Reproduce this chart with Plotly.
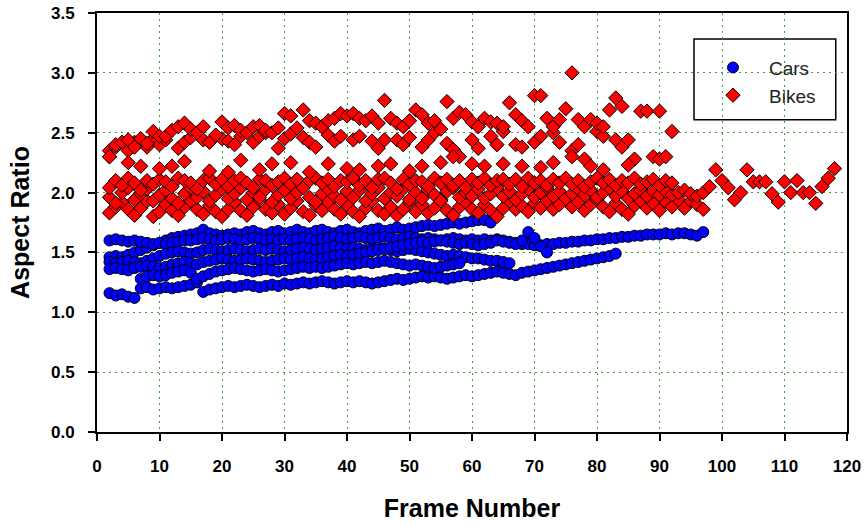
import plotly.graph_objects as go

# ---------------- data ----------------
# Each track: first frame number, then one aspect-ratio value per frame (None = no detection)
car_track_starts = [2, 2, 2, 2, 2, 7]

car_track_1 = [1.46, 1.47, 1.46, 1.48, 1.50, 1.52, 1.54, 1.56, 1.58,
               1.60, 1.62, 1.63, 1.64, 1.65, 1.66, 1.69, 1.66, 1.65, 1.64,
               1.65, 1.66, 1.65, 1.67, 1.68, 1.66, 1.65, 1.67, 1.68, 1.66,
               1.67, 1.69, 1.67, 1.66, 1.68, 1.69, 1.67, 1.66, 1.68, 1.69,
               1.67, 1.66, 1.68, 1.69, 1.70, 1.68, 1.69, 1.71, 1.69, 1.70,
               1.71, 1.72, 1.73, 1.72, 1.73, 1.74, 1.75, 1.74, 1.75, 1.76,
               1.77, 1.77, 1.75]

car_track_2 = [1.60, 1.61, 1.60, 1.59, 1.60, 1.59, 1.58, 1.57, 1.58,
               1.57, 1.58, 1.59, 1.60, 1.60, 1.61, 1.62, 1.61, 1.60, 1.61,
               1.62, 1.61, 1.60, 1.61, 1.62, 1.61, 1.60, 1.61, 1.60, 1.61,
               1.60, 1.61, 1.62, 1.61, 1.60, 1.61, 1.62, 1.63, 1.62, 1.61,
               1.62, 1.63, 1.62, 1.61, 1.62, 1.63, 1.62, 1.61, 1.62, 1.63,
               1.62, 1.61, 1.62, 1.61, 1.60, 1.61, 1.62, 1.61, 1.60, 1.61,
               1.60, 1.61, 1.60, 1.61, 1.60, 1.59, 1.58, 1.57, 1.57, 1.56,
               1.56, 1.57, 1.57, 1.58, 1.58, 1.59, 1.59, 1.60, 1.60, 1.61,
               1.61, 1.62, 1.62, 1.63, 1.63, 1.64, 1.64, 1.65, 1.65, 1.65,
               1.66, 1.65, 1.66, 1.66, 1.65, 1.64, 1.67]

car_track_3 = [1.42, 1.41, 1.42, 1.43, 1.42, 1.41, 1.43, 1.45, 1.47,
               1.49, 1.50, 1.51, 1.50, 1.49, 1.50, 1.52, 1.53, 1.52, 1.51,
               1.52, 1.53, 1.52, 1.51, 1.52, 1.53, 1.52, 1.53, 1.52, 1.51,
               1.52, 1.53, 1.54, 1.53, 1.52, 1.53, 1.54, 1.55, 1.54, 1.53,
               1.54, 1.53, 1.52, 1.53, 1.54, 1.53, 1.52, 1.51, 1.52, 1.53,
               1.52, 1.51, 1.50, 1.49, 1.48, 1.47, 1.48, 1.47, 1.46, 1.45,
               1.45, 1.44, 1.43, 1.43, 1.42, 1.41]

car_track_4 = [1.36, 1.37, 1.36, 1.35, 1.37, 1.38, 1.39, 1.38, 1.37,
               1.38, 1.40, 1.41, 1.42, 1.41, 1.40, 1.42, 1.43, 1.44, 1.45,
               1.44, 1.43, 1.44, 1.45, 1.44, 1.43, 1.42, 1.43, 1.44, 1.45,
               1.44, 1.45, 1.46, 1.45, 1.44, 1.45, 1.46, 1.47, 1.48, 1.47,
               1.48, 1.49, 1.50, 1.51, 1.52, 1.53, 1.54, 1.55, 1.56, 1.57,
               1.58, 1.59, 1.58, 1.59, 1.60, 1.59, 1.58, 1.57, 1.58, 1.57,
               1.56, 1.57, 1.58, 1.60, 1.59, 1.58, 1.57, 1.60, 1.67, 1.62,
               1.55, 1.50]

car_track_5 = [1.16, 1.14, 1.15, 1.13, 1.12, 1.20, 1.21, 1.19, 1.20,
               1.21, 1.20, 1.21, 1.22, 1.23, 1.25, 1.17, 1.19, 1.20, 1.21,
               1.22, 1.21, 1.22, 1.23, 1.22, 1.21, 1.22, 1.23, 1.22, 1.24,
               1.23, 1.24, 1.25, 1.24, 1.25, 1.26, 1.25, 1.24, 1.25, 1.26,
               1.25, 1.26, 1.25, 1.24, 1.25, 1.26, 1.27, 1.28, 1.27, 1.28,
               1.29, 1.30, 1.29, 1.30, 1.29, 1.28, 1.29, 1.30, 1.31, 1.30,
               1.31, 1.32, 1.33, 1.34, 1.33, 1.32, 1.31, 1.33, 1.34, 1.35,
               1.36, 1.37, 1.38, 1.39, 1.40, 1.41, 1.42, 1.43, 1.44, 1.45,
               1.46, 1.47, 1.49]

car_track_6 = [1.28, 1.30, 1.31, 1.30,
               1.31, 1.33, 1.34, 1.35, 1.33, 1.28, 1.30, 1.32, 1.34, 1.35,
               1.36, 1.37, 1.36, 1.35, 1.34, 1.35, 1.36, 1.35, 1.34, 1.35,
               1.36, 1.37, 1.38, 1.37, 1.38, 1.37, 1.38, 1.39, 1.40, 1.41,
               1.40, 1.41, 1.42, 1.41, 1.42, 1.43, 1.42, 1.41, 1.40, 1.39,
               1.40, 1.39, 1.38, 1.37, 1.38, 1.39, 1.40, 1.41]

bike_track_starts = [2, 2, 2, 2, 2, 2]

bike_track_1 = [1.83, 1.88, 1.92, 1.86, 1.81, 1.87, 1.93, 1.80, 1.84,
                1.90, 1.85, 1.81, 1.88, 1.93, 1.86, 1.82, 1.89, 1.84, 1.80,
                1.86, 1.92, 1.85, 1.81, 1.88, 1.94, 1.86, 1.83, 1.90, 1.82,
                1.87, 1.93, 1.84, 1.81, 1.89, 1.85, 1.92, 1.86, 1.82, 1.90,
                1.84, 1.80, 1.87, 1.93, 1.85, 1.82, 1.88, 1.81, 1.86, 1.92,
                1.84, 1.90, 1.83, 1.87, 1.94, 1.85, 1.81, 1.88, 1.92, 1.86,
                1.83, 1.90, 1.85, 1.80, 1.87, 1.93, 1.86, 1.89, 1.84, 1.91,
                1.87, 1.93, 1.86, 1.90, 1.95, 1.88, 1.92, 1.85, 1.90, 1.94,
                1.88, 1.84, 1.91, 1.86, 1.82, 1.89, 1.93, 1.87, 1.91, 1.85,
                1.92, 1.88, 1.94, 1.87, 1.93, 1.90, 1.86]

bike_track_2 = [1.96, 1.91, 2.00, 2.04, 1.94, 1.99, 2.03, 1.93, 1.98,
                2.02, 1.95, 1.91, 1.99, 2.04, 1.96, 2.01, 1.93, 1.98, 2.03,
                1.95, 1.99, 2.04, 1.94, 2.00, 1.96, 2.03, 1.92, 1.98, 2.02,
                1.95, 2.00, 2.05, 1.96, 1.92, 1.99, 2.03, 1.97, 1.94, 2.01,
                1.96, 2.02, 1.93, 1.99, 2.04, 1.95, 2.00, 1.97, 2.03, 1.94,
                2.00, 1.95, 2.02, 1.98, 1.93, 2.01, 2.04, 1.96, 2.00, 1.97,
                2.03, 1.95, 1.99, 2.04, 1.97, 2.01, 1.94, 1.99, 2.03, 1.96,
                2.00, 2.04, 1.97, 2.01, 1.95, 1.99, 2.03, 1.98, 2.02, 1.96,
                2.00, 2.04, 1.97, 2.01, 1.95, 1.99, 2.02, 1.97, 2.01, 1.98,
                2.01, 1.98, 2.00, 2.02, 1.99, 1.97, 2.00, 2.05, 2.19, 2.10,
                2.04, 1.94, 2.00, 2.19, 2.09, 2.09, 2.09, 1.99, 1.92, 2.09,
                2.00, 2.10, 2.00, 2.00, 1.91, 2.05, 2.12, 2.20]

bike_track_3 = [2.04, 2.10, 2.06, 2.12, 2.08, 2.02, 2.10, 2.07, 2.11,
                2.09, 2.05, 2.12, 2.10, 2.08, 2.03, 2.10, 2.12, 2.07, 2.11,
                2.05, 2.10, 2.12, 2.08, 2.04, 2.11, 2.10, 2.06, 2.09, 2.12,
                2.07, 2.11, 2.04, 2.10, 2.12, 2.08, 2.11, 2.05, 2.10, 2.09,
                2.12, 2.06, 2.10, 2.04, 2.11, 2.12, 2.08, 2.03, 2.11, 2.07,
                2.10, 2.09, 2.05, 2.12, 2.08, 2.11, 2.06, 2.10, 2.04, 2.11,
                2.08, 2.12, 2.06, 2.10, 2.11, 2.07, 2.11, 2.05, 2.12, 2.08,
                2.10, 2.06, 2.11, 2.08, 2.12, 2.07, 2.10, 2.05, 2.09, 2.12,
                2.08, 2.11, 2.06, 2.10, 2.08, 2.12, 2.07, 2.09, 2.11, 2.06,
                2.10, 2.08]

bike_track_4 = [2.35, 2.38, None, 2.35, 2.42, None, 2.38, 2.45, 2.40,
                2.44, None, 2.37, 2.42, 2.46, None, 2.44, 2.42, None, 2.45,
                2.43, 2.40, 2.47, None, 2.42, 2.47, 2.50, None, 2.37, 2.45,
                2.49, None, 2.46, 2.42, 2.38, None, 2.48, 2.43, 2.47, None,
                2.44, 2.47, None, 2.43, 2.37, 2.44, None, 2.44, 2.40, 2.46,
                None, 2.38, 2.44, 2.50, None, 2.41, 2.36, 2.30, None, 2.44,
                2.37, None, 2.47, 2.40, 2.51, None, 2.40, 2.38, None, 2.42,
                2.47, None, 2.50, 2.42, None, 2.35, 2.40, 2.28, None, 2.51,
                2.47, None, 2.44, 2.38, 2.44, 2.28, None, None, 2.30, 2.28,
                2.30, 2.51]

bike_track_5 = [2.30, 2.40, 2.42, 2.44, 2.38, 2.45, 2.41, 2.51, 2.47,
                2.47, 2.52, 2.55, 2.58, 2.53, 2.50, 2.55, None, 2.48, 2.59,
                2.54, 2.56, 2.52, 2.50, 2.55, 2.56, 2.52, 2.50, 2.54, 2.66,
                2.64, 2.54, 2.69, 2.60, 2.58, 2.55, 2.60, 2.62, 2.66, 2.64,
                2.66, 2.62, 2.60, 2.64, 2.58, 2.77, 2.62, 2.58, 2.55, 2.60,
                2.69, 2.65, 2.58, 2.60, 2.53, 2.76, 2.62, 2.67, 2.65, 2.59,
                2.55, 2.62, 2.59, 2.58, 2.55, 2.75, 2.65, 2.60, 2.55, 2.81,
                2.81, 2.62, 2.55, 2.61, 2.70, 3.00, 2.61, 2.55, 2.61, 2.58,
                2.55, 2.69, 2.79, 2.72, None, None, 2.68, 2.68, None, 2.68]

bike_track_6 = [2.30, None, None, 2.25, None, 2.22, None, None, 2.20,
                None, 2.22, None, 2.26, None, None, None, 2.18, None, None,
                2.17, None, 2.27, None, None, 2.19, None, 2.24, None, None,
                2.25, None, None, 2.17, None, None, 2.24, None, None, 2.20,
                None, 2.19, None, None, 2.22, None, 2.24, None, None, 2.18,
                None, 2.22, None, None, 2.25, None, 2.30, None, None, 2.24,
                None, 2.22, None, None, 2.24, None, None, 2.22, None, None,
                2.21, None, 2.25, None, None, 2.30, None, None, 2.22, None,
                2.19, None, None, None, 2.23]

car_tracks = [car_track_1, car_track_2, car_track_3, car_track_4, car_track_5, car_track_6]
bike_tracks = [bike_track_1, bike_track_2, bike_track_3, bike_track_4, bike_track_5, bike_track_6]

x_ticks = [0, 10, 20, 30, 40, 50, 60, 70, 80, 90, 100, 110, 120]
y_ticks = [0.0, 0.5, 1.0, 1.5, 2.0, 2.5, 3.0, 3.5]


def flatten(starts, tracks):
    xs, ys = [], []
    for s, tr in zip(starts, tracks):
        for i, v in enumerate(tr):
            if v is None:
                continue
            xs.append(s + i)
            ys.append(v)
    return xs, ys


car_x, car_y = flatten(car_track_starts, car_tracks)
bike_x, bike_y = flatten(bike_track_starts, bike_tracks)

fig = go.Figure()
fig.add_trace(go.Scatter(
    x=car_x, y=car_y, mode="markers", name="Cars",
    marker=dict(symbol="circle", size=11, color="#0000FF",
                line=dict(color="black", width=1)),
))
fig.add_trace(go.Scatter(
    x=bike_x, y=bike_y, mode="markers", name="Bikes",
    marker=dict(symbol="diamond", size=11, color="#FF0000",
                line=dict(color="black", width=1)),
))

FAM = "Arial, Liberation Sans, sans-serif"
grid_color = "rgb(60,160,60)"
tick_font = dict(family=FAM, size=17, color="black", weight="bold")
title_font = dict(family=FAM, size=25, color="black", weight="bold")

fig.update_xaxes(
    range=[0, 120], tickvals=x_ticks, ticktext=[str(v) for v in x_ticks],
    showgrid=True, gridcolor=grid_color, gridwidth=1, griddash="2px,4px",
    zeroline=False, showline=True, linecolor="black", linewidth=2, mirror=True,
    ticks="outside", ticklen=7, tickwidth=2, tickcolor="black",
    tickfont=tick_font, ticklabelstandoff=11,
    title=dict(text="Frame Number", font=title_font, standoff=24),
)
fig.update_yaxes(
    range=[0, 3.5], tickvals=y_ticks, ticktext=["%.1f" % v for v in y_ticks],
    showgrid=True, gridcolor=grid_color, gridwidth=1, griddash="2px,4px",
    zeroline=False, showline=True, linecolor="black", linewidth=2, mirror=True,
    ticks="outside", ticklen=7, tickwidth=2, tickcolor="black",
    tickfont=tick_font, ticklabelstandoff=10,
    title=dict(text="Aspect Ratio", font=title_font, standoff=14),
)

fig.update_layout(
    width=864, height=525,
    margin=dict(l=97, r=17, t=13, b=93, autoexpand=False),
    paper_bgcolor="white", plot_bgcolor="white",
    font=dict(family=FAM, color="black"),
    showlegend=True,
    legend=dict(
        x=0.80, y=0.915, xanchor="left", yanchor="top",
        bgcolor="rgba(0,0,0,0)", borderwidth=0,
        font=dict(family=FAM, size=19, color="#222222"),
        itemwidth=62, tracegroupgap=6,
    ),
    shapes=[dict(type="rect", xref="paper", yref="paper",
                 x0=0.796, x1=0.985, y0=0.745, y1=0.938,
                 line=dict(color="black", width=1.5), fillcolor="white", layer="below")],
)

fig.write_html("out.html", config={"displayModeBar": False},
               post_script="document.body.style.margin='0px';")
